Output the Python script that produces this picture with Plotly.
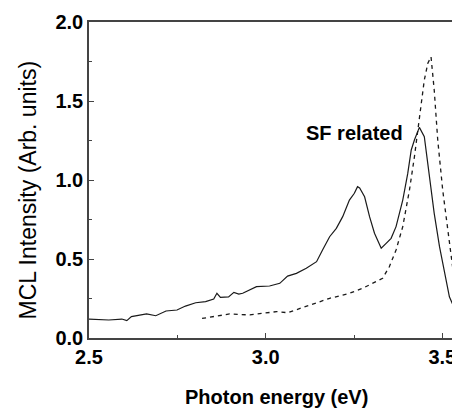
import plotly.graph_objects as go

# Solid curve (sample with SF-related emission)
solid_x = [2.500, 2.556, 2.593, 2.607, 2.620, 2.663, 2.689, 2.718, 2.749, 2.773, 2.802,
           2.830, 2.853, 2.862, 2.872, 2.895, 2.910, 2.924, 2.935, 2.974, 3.011, 3.040,
           3.062, 3.087, 3.115, 3.144, 3.161, 3.181, 3.200, 3.218, 3.237, 3.251, 3.260,
           3.266, 3.280, 3.294, 3.308, 3.327, 3.341, 3.355, 3.369, 3.388, 3.402, 3.412,
           3.421, 3.435, 3.449, 3.463, 3.477, 3.492, 3.506, 3.520, 3.534, 3.548]
solid_y = [0.120, 0.114, 0.120, 0.110, 0.135, 0.152, 0.141, 0.171, 0.177, 0.202, 0.223,
           0.230, 0.247, 0.283, 0.257, 0.260, 0.289, 0.278, 0.283, 0.325, 0.329, 0.346,
           0.392, 0.409, 0.441, 0.483, 0.557, 0.641, 0.694, 0.768, 0.873, 0.916, 0.958,
           0.950, 0.894, 0.768, 0.663, 0.568, 0.599, 0.631, 0.705, 0.873, 1.040, 1.190,
           1.253, 1.333, 1.274, 1.040, 0.789, 0.578, 0.409, 0.261, 0.188, 0.167]

# Dashed curve (reference sample)
dash_x = [2.820, 2.858, 2.898, 2.955, 2.992, 3.031, 3.062, 3.105, 3.144, 3.181, 3.218,
          3.237, 3.274, 3.302, 3.331, 3.350, 3.369, 3.388, 3.407, 3.421, 3.435, 3.449,
          3.459, 3.468, 3.477, 3.487, 3.501, 3.515, 3.529, 3.543]
dash_y = [0.124, 0.139, 0.152, 0.146, 0.156, 0.167, 0.160, 0.194, 0.220, 0.251, 0.272,
          0.283, 0.314, 0.346, 0.378, 0.451, 0.557, 0.705, 0.937, 1.147, 1.400, 1.633,
          1.739, 1.780, 1.570, 1.253, 0.937, 0.684, 0.451, 0.283]

x_ticks = [2.5, 3.0, 3.5]
x_tick_labels = ["2.5", "3.0", "3.5"]
y_ticks = [0.0, 0.5, 1.0, 1.5, 2.0]
y_tick_labels = ["0.0", "0.5", "1.0", "1.5", "2.0"]

x_title = "Photon energy (eV)"
y_title = "MCL Intensity (Arb. units)"
annotation_text = "SF related"
annotation_pos = (3.251, 1.30)

FONT = "Liberation Sans, Arial, sans-serif"
INK = "#1a1a1a"
# page body has an 8px margin; figure sized so it fills the 460x409 window
W, H = 452, 401
L, R, T, B = 81, 0, 14, 71

fig = go.Figure()
fig.add_trace(go.Scatter(x=solid_x, y=solid_y, mode="lines",
                         line=dict(color=INK, width=1.2), showlegend=False))
fig.add_trace(go.Scatter(x=dash_x, y=dash_y, mode="lines",
                         line=dict(color=INK, width=1.3, dash="4px,4px"), showlegend=False))

fig.add_annotation(x=annotation_pos[0], y=annotation_pos[1], text="<b>" + annotation_text + "</b>",
                   showarrow=False, font=dict(family=FONT, size=20, color="#000"))

pw, ph = W - L - R, H - T - B
fig.add_annotation(xref="paper", yref="paper", x=(268 - L) / pw, y=(H - B - 389) / ph,
                   text="<b>" + x_title + "</b>", showarrow=False, xanchor="center", yanchor="middle",
                   font=dict(family=FONT, size=20, color="#000"))
fig.add_annotation(xref="paper", yref="paper", x=(19.5 - L) / pw, y=(H - B - 182) / ph,
                   text=y_title, showarrow=False, xanchor="center", yanchor="middle", textangle=-90,
                   font=dict(family=FONT, size=23, color="#000"))

fig.update_layout(
    width=W, height=H,
    margin=dict(l=L, r=R, t=T, b=B, autoexpand=False),
    paper_bgcolor="white", plot_bgcolor="white",
    font=dict(family=FONT, color="#000"),
    xaxis=dict(range=[2.5, 3.55], tickvals=x_ticks, ticktext=["<b>%s</b>" % t for t in x_tick_labels],
               ticks="inside", ticklen=5, tickwidth=1.3, tickcolor="#444",
               minor=dict(dtick=0.25, tick0=2.5, ticks="inside", ticklen=3, tickcolor="#444", showgrid=False),
               showline=True, linecolor="#444", linewidth=1.5, mirror=True,
               showgrid=False, zeroline=False, automargin=False,
               tickfont=dict(size=20, family=FONT, color="#000")),
    yaxis=dict(range=[0, 2.0], tickvals=y_ticks, ticktext=["<b>%s</b>" % t for t in y_tick_labels],
               ticks="inside", ticklen=5, tickwidth=1.3, tickcolor="#444",
               minor=dict(dtick=0.25, tick0=0, ticks="inside", ticklen=3, tickcolor="#444", showgrid=False),
               showline=True, linecolor="#444", linewidth=1.5, mirror=False,
               showgrid=False, zeroline=False, automargin=False,
               tickfont=dict(size=20, family=FONT, color="#000")),
)

fig.write_html("out.html")
